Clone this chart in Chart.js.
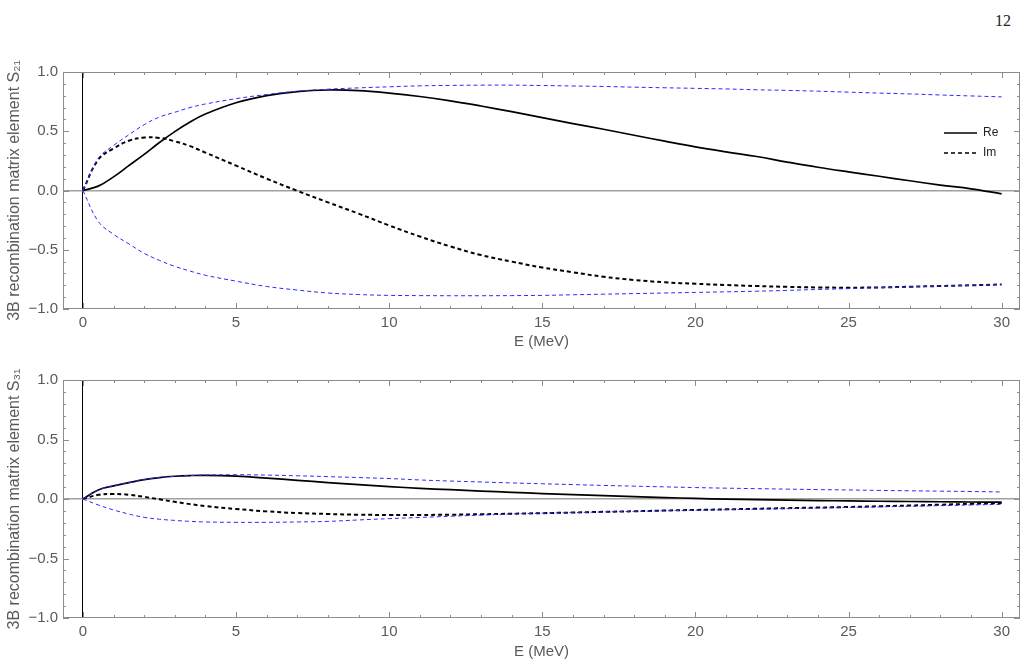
<!DOCTYPE html>
<html>
<head>
<meta charset="utf-8">
<script src="https://cdn.jsdelivr.net/npm/chart.js@4.4.0/dist/chart.umd.min.js"></script>
<style>
  body { margin: 0; background: #fff; width: 1026px; height: 670px; overflow: hidden; position: relative; }
  #pageNum { position: absolute; left: 995px; top: 12px; font-family: "Liberation Serif", "DejaVu Serif", serif; font-size: 16px; color: #222; }
  canvas { position: absolute; left: 0; }
  #topChart { top: 0; }
  #bottomChart { top: 360px; }
</style>
</head>
<body>
<div id="pageNum">12</div>
<canvas id="topChart" width="1026" height="360"></canvas>
<canvas id="bottomChart" width="1026" height="310"></canvas>
<script>
// energies (MeV) where the curves were read
const energy = [0, 0.5, 1, 1.5, 2, 2.5, 3, 3.5, 4, 5, 6, 7, 8, 9, 10, 11, 12, 13, 14, 15,
  16, 17, 18, 19, 20, 21, 22, 23, 24, 25, 26, 27, 28, 29, 30];

// S21
const s21Re = [0, 0.037, 0.115, 0.21, 0.305, 0.405, 0.497, 0.578, 0.645, 0.74, 0.80, 0.835, 0.848, 0.843, 0.822,
  0.793, 0.757, 0.713, 0.665, 0.615, 0.565, 0.517, 0.466, 0.416, 0.368, 0.326, 0.287, 0.24, 0.196, 0.157,
  0.12, 0.082, 0.046, 0.014, -0.028];
const s21Im = [0, 0.26, 0.355, 0.42, 0.447, 0.444, 0.415, 0.374, 0.32, 0.21, 0.10, -0.003, -0.10, -0.195, -0.295,
  -0.388, -0.472, -0.545, -0.60, -0.65, -0.69, -0.728, -0.755, -0.775, -0.787, -0.798, -0.806, -0.813, -0.818, -0.82,
  -0.818, -0.812, -0.806, -0.80, -0.793];
const s21Upper = [0, 0.27, 0.38, 0.47, 0.555, 0.62, 0.66, 0.70, 0.73, 0.775, 0.81, 0.838, 0.855, 0.866, 0.875,
  0.883, 0.887, 0.889, 0.889, 0.886, 0.882, 0.878, 0.872, 0.867, 0.862, 0.857, 0.85, 0.845, 0.838, 0.83,
  0.822, 0.815, 0.806, 0.798, 0.79];
const s21Lower = [0, -0.26, -0.37, -0.45, -0.53, -0.59, -0.64, -0.68, -0.715, -0.765, -0.81, -0.84, -0.865, -0.878, -0.885,
  -0.887, -0.888, -0.888, -0.887, -0.885, -0.88, -0.875, -0.87, -0.865, -0.86, -0.855, -0.85, -0.843, -0.835, -0.828,
  -0.82, -0.813, -0.806, -0.80, -0.793];

// S31
const s31Re = [0, 0.076, 0.11, 0.137, 0.163, 0.18, 0.191, 0.197, 0.199, 0.192, 0.176, 0.157, 0.138, 0.12, 0.104,
  0.09, 0.078, 0.067, 0.056, 0.046, 0.037, 0.028, 0.02, 0.012, 0.005, -0.001, -0.006, -0.01, -0.013, -0.016,
  -0.019, -0.021, -0.023, -0.025, -0.027];
const s31Im = [0, 0.035, 0.042, 0.036, 0.018, -0.003, -0.024, -0.043, -0.06, -0.084, -0.104, -0.118, -0.126, -0.132, -0.134,
  -0.134, -0.132, -0.128, -0.124, -0.119, -0.114, -0.108, -0.103, -0.097, -0.092, -0.087, -0.082, -0.077, -0.072, -0.067,
  -0.061, -0.055, -0.048, -0.041, -0.034];
const s31Upper = [0, 0.076, 0.11, 0.137, 0.163, 0.18, 0.191, 0.198, 0.201, 0.204, 0.201, 0.195, 0.188, 0.18, 0.172,
  0.16, 0.151, 0.143, 0.135, 0.128, 0.121, 0.114, 0.108, 0.102, 0.096, 0.091, 0.087, 0.083, 0.079, 0.076,
  0.072, 0.069, 0.066, 0.063, 0.059];
const s31Lower = [0, -0.05, -0.092, -0.126, -0.154, -0.17, -0.18, -0.188, -0.193, -0.196, -0.196, -0.193, -0.188, -0.176, -0.165,
  -0.155, -0.145, -0.135, -0.126, -0.119, -0.114, -0.109, -0.104, -0.099, -0.094, -0.09, -0.085, -0.08, -0.076, -0.071,
  -0.066, -0.061, -0.056, -0.05, -0.045];

const xTicks = [0, 5, 10, 15, 20, 25, 30];
const yTicks = [-1, -0.5, 0, 0.5, 1];

const FRAME = '#8c8c8c';
const LABEL = '#5a5a5a';
const FONT = '"Liberation Sans", Arial, sans-serif';

function points(ys) {
  return energy.map((e, i) => ({x: e, y: ys[i]}));
}

// Mathematica-style frame with inward ticks on all four sides
const framePlugin = {
  id: 'frame',
  afterDatasetsDraw(chart) {
    const {ctx, chartArea: a, scales: {x, y}} = chart;
    ctx.save();
    ctx.strokeStyle = FRAME;
    ctx.lineWidth = 1;
    ctx.strokeRect(a.left + 0.5, a.top + 0.5, a.right - a.left - 1, a.bottom - a.top - 1);
    ctx.beginPath();
    for (let v = 0; v <= 30; v++) {
      const px = Math.round(x.getPixelForValue(v)) + 0.5;
      const len = v % 5 === 0 ? 6 : 3;
      ctx.moveTo(px, a.bottom); ctx.lineTo(px, a.bottom - len);
      ctx.moveTo(px, a.top); ctx.lineTo(px, a.top + len);
    }
    for (let k = -10; k <= 10; k++) {
      const py = Math.round(y.getPixelForValue(k / 10)) + 0.5;
      const len = k % 5 === 0 ? 6 : 3;
      ctx.moveTo(a.left, py); ctx.lineTo(a.left + len, py);
      ctx.moveTo(a.right, py); ctx.lineTo(a.right - len, py);
    }
    ctx.stroke();
    ctx.restore();
  }
};

// small Re / Im key inside the upper panel
const keyPlugin = {
  id: 'key',
  afterDraw(chart, args, opts) {
    if (!opts.show) return;
    const {ctx, chartArea: a} = chart;
    const x0 = a.right - 76, y0 = a.top + 61;
    ctx.save();
    ctx.strokeStyle = '#000';
    ctx.lineWidth = 1.6;
    ctx.beginPath(); ctx.moveTo(x0, y0); ctx.lineTo(x0 + 33, y0); ctx.stroke();
    ctx.setLineDash([4, 3]);
    ctx.beginPath(); ctx.moveTo(x0, y0 + 20); ctx.lineTo(x0 + 33, y0 + 20); ctx.stroke();
    ctx.fillStyle = '#222';
    ctx.font = '12px ' + FONT;
    ctx.textBaseline = 'middle';
    ctx.fillText('Re', x0 + 39, y0);
    ctx.fillText('Im', x0 + 39, y0 + 20);
    ctx.restore();
  }
};

function makeChart(id, re, im, upper, lower, yTitle, padTop, xHeight, showKey) {
  return new Chart(document.getElementById(id), {
    type: 'line',
    data: {
      datasets: [
        {label: 'upper', data: points(upper), borderColor: '#2a2aff', borderWidth: 1, borderDash: [4, 3]},
        {label: 'lower', data: points(lower), borderColor: '#2a2aff', borderWidth: 1, borderDash: [4, 3]},
        {label: 'Re', data: points(re), borderColor: '#000', borderWidth: 1.7},
        {label: 'Im', data: points(im), borderColor: '#000', borderWidth: 2, borderDash: [4, 3]}
      ]
    },
    options: {
      responsive: false,
      animation: false,
      layout: {padding: {top: padTop, right: 6, left: 0, bottom: 0}},
      elements: {
        point: {radius: 0},
        line: {tension: 0.4, fill: false}
      },
      scales: {
        x: {
          type: 'linear',
          min: -0.65,
          max: 30.6,
          afterFit: s => { s.height = xHeight; },
          afterBuildTicks: s => { s.ticks = xTicks.map(v => ({value: v})); },
          ticks: {font: {family: FONT, size: 15}, color: LABEL, padding: 5, maxRotation: 0},
          grid: {drawTicks: false, lineWidth: 1, color: c => c.tick && c.tick.value === 0 ? '#000' : 'rgba(0,0,0,0)'},
          border: {display: false},
          title: {display: true, text: 'E (MeV)', font: {family: FONT, size: 15}, color: LABEL, padding: {top: 0, bottom: 9}}
        },
        y: {
          min: -1,
          max: 1,
          afterFit: s => { s.width = 63; },
          afterBuildTicks: s => { s.ticks = yTicks.map(v => ({value: v})); },
          ticks: {
            font: {family: FONT, size: 15}, color: LABEL, padding: 5,
            callback: v => (v < 0 ? '\u2212' : '') + Math.abs(v).toFixed(1)
          },
          grid: {drawTicks: false, lineWidth: 1.5, color: c => c.tick && c.tick.value === 0 ? '#a0a0a0' : 'rgba(0,0,0,0)'},
          border: {display: false},
          title: {display: true, text: yTitle, font: {family: FONT, size: 16}, color: LABEL, padding: {top: 5, bottom: 0}}
        }
      },
      plugins: {
        legend: {display: false},
        tooltip: {enabled: false},
        key: {show: showKey}
      }
    },
    plugins: [framePlugin, keyPlugin]
  });
}

makeChart('topChart', s21Re, s21Im, s21Upper, s21Lower,
  '3B recombination matrix element S\u2082\u2081', 72, 51, true);
makeChart('bottomChart', s31Re, s31Im, s31Upper, s31Lower,
  '3B recombination matrix element S\u2083\u2081', 20, 52, false);
</script>
</body>
</html>
